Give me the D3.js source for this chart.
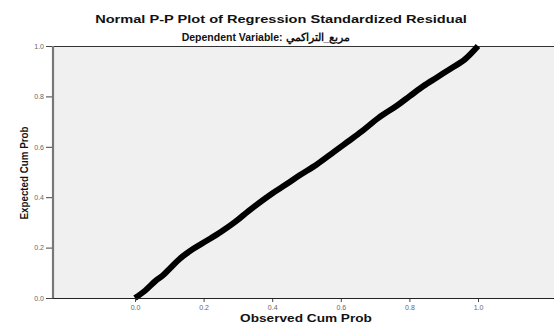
<!DOCTYPE html>
<html>
<head>
<meta charset="utf-8">
<script src="https://cdn.jsdelivr.net/npm/d3@7"></script>
<style>
  html, body { margin: 0; padding: 0; background: #fff; }
  svg { display: block; }
</style>
</head>
<body>
<svg id="chart" width="554" height="326"></svg>
<script>
const titleText = "Normal P-P Plot of Regression Standardized Residual";
const subtitleText = "Dependent Variable: مربع_التراكمي";
const xLabel = "Observed Cum Prob";
const yLabel = "Expected Cum Prob";
const tickValues = [0, 0.2, 0.4, 0.6, 0.8, 1.0];
const observed = [0.00, 0.03, 0.06, 0.08, 0.10, 0.13, 0.17, 0.21, 0.25, 0.29, 0.34, 0.40, 0.44, 0.48, 0.53, 0.58, 0.62, 0.66, 0.71, 0.76, 0.80, 0.84, 0.88, 0.92, 0.96, 1.00];
const expected = [0.00, 0.03, 0.068, 0.088, 0.115, 0.155, 0.195, 0.228, 0.262, 0.30, 0.355, 0.415, 0.45, 0.487, 0.53, 0.58, 0.62, 0.66, 0.715, 0.76, 0.80, 0.84, 0.875, 0.91, 0.945, 1.00];

const svg = d3.select("#chart");
const x = d3.scaleLinear().domain([0, 1]).range([135, 478]);
const y = d3.scaleLinear().domain([0, 1]).range([298, 46]);

const frameLeft = 53, frameRight = 570;
const FONT = "Arial, 'Liberation Sans', sans-serif";

svg.append("rect")
  .attr("x", frameLeft).attr("y", y(1))
  .attr("width", frameRight - frameLeft).attr("height", y(0) - y(1))
  .attr("fill", "#f0f0f0");

svg.append("line").attr("x1", frameLeft).attr("x2", frameRight)
  .attr("y1", y(1) + 0.5).attr("y2", y(1) + 0.5)
  .attr("stroke", "#333").attr("stroke-width", 1);

const pts = observed.map((o, i) => [o, expected[i]]);
svg.append("path")
  .datum(pts)
  .attr("d", d3.line().x(d => x(d[0])).y(d => y(d[1])).curve(d3.curveCatmullRom))
  .attr("fill", "none").attr("stroke", "#000")
  .attr("stroke-width", 6).attr("stroke-linejoin", "round").attr("stroke-linecap", "butt");

const xAxis = d3.axisBottom(x).tickValues(tickValues).tickFormat(d3.format(".1f")).tickSize(4).tickPadding(3);
const gx = svg.append("g").attr("transform", `translate(0,${y(0)})`).call(xAxis);
gx.select(".domain").remove();
gx.append("line").attr("x1", frameLeft).attr("x2", frameRight).attr("y1", 0.5).attr("y2", 0.5)
  .attr("stroke", "#222").attr("stroke-width", 1.2);
gx.selectAll(".tick line").attr("stroke", "#444");
gx.selectAll(".tick text").attr("fill", "#666").attr("font-family", FONT).attr("font-size", 7);

const yAxis = d3.axisLeft(y).tickValues(tickValues).tickFormat(d3.format(".1f")).tickSize(7).tickPadding(2);
const gy = svg.append("g").attr("transform", `translate(${frameLeft},0)`).call(yAxis);
gy.select(".domain").remove();
gy.append("line").attr("x1", 0).attr("x2", 0).attr("y1", y(1)).attr("y2", y(0))
  .attr("stroke", "#777").attr("stroke-width", 2.2);
gy.selectAll(".tick line").attr("stroke", "#444");
gy.selectAll(".tick text").attr("fill", "#666").attr("font-family", FONT).attr("font-size", 7);

function fitted(cx, cy, rot, txt, size, width) {
  const g = svg.append("g").attr("transform", `translate(${cx},${cy}) rotate(${rot})`);
  const t = g.append("text").attr("x", 0).attr("y", 0).attr("text-anchor", "middle")
    .attr("font-family", FONT).attr("font-weight", "bold").attr("font-size", size)
    .attr("fill", "#111").text(txt);
  const w = t.node().getComputedTextLength();
  if (w > 0) t.attr("transform", `scale(${width / w},1)`);
  return t;
}

fitted(281, 23, 0, titleText, 10.5, 372);
svg.append("text").attr("x", 266).attr("y", 41).attr("text-anchor", "middle")
  .attr("font-family", FONT).attr("font-weight", "bold").attr("font-size", 10.5)
  .attr("fill", "#111").text(subtitleText);
fitted(306, 322, 0, xLabel, 10, 132);
fitted(28, 173, -90, yLabel, 10, 93);
</script>
</body>
</html>
